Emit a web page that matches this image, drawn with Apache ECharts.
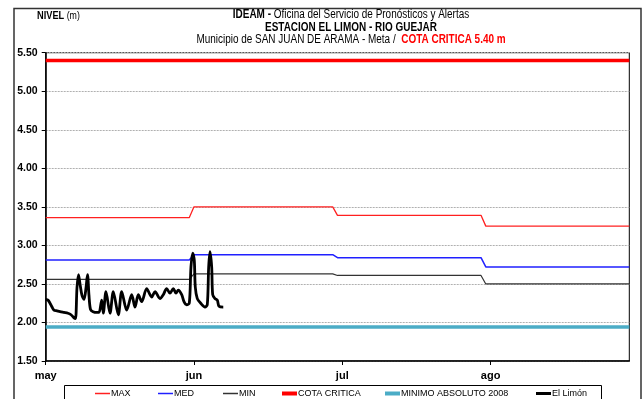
<!DOCTYPE html>
<html><head><meta charset="utf-8">
<script src="https://cdn.jsdelivr.net/npm/echarts@6/dist/echarts.min.js"></script>
<style>html,body{margin:0;padding:0;background:#fff}#c{width:643px;height:399px}</style>
</head><body><div id="c"></div>
<script>
// ---- data ----
const monthNames = ['may', 'jun', 'jul', 'ago'];
const monthTickDays = [0, 31, 62, 93];
const monthStartDays = [0, 31, 61, 92];
const monthLengths = [31, 30, 31, 31];
const maxLevels = [3.36, 3.50, 3.39, 3.25];
const medLevels = [2.81, 2.88, 2.84, 2.72];
const minLevels = [2.56, 2.63, 2.61, 2.50];
const cotaCritica = 5.40;
const minimoAbsoluto2008 = 1.94;
const limonDays = [0, 0.48, 0.90, 1.32, 1.73, 2.36, 2.99, 3.83, 4.66, 5.29, 5.92, 6.23, 6.54, 6.86, 7.17, 7.59, 8.01, 8.43, 8.74, 9.05, 9.36, 9.89, 10.72, 11.14, 11.71, 12.04, 12.60, 13.44, 14.13, 15.18, 15.89, 16.93, 17.98, 18.67, 19.36, 20.07, 21.11, 22.16, 22.85, 23.89, 24.58, 25.29, 25.98, 26.67, 27.24, 27.72, 28.43, 28.91, 29.47, 30.02, 30.37, 30.73, 31.06, 31.27, 31.69, 32.40, 33.30, 33.78, 34.07, 34.34, 34.70, 34.91, 35.39, 35.87, 36.23, 37.12];
const limonLevels = [2.30, 2.29, 2.25, 2.20, 2.16, 2.15, 2.14, 2.13, 2.12, 2.10, 2.06, 2.05, 2.45, 2.62, 2.50, 2.35, 2.30, 2.45, 2.62, 2.35, 2.17, 2.14, 2.13, 2.13, 2.29, 2.12, 2.40, 2.12, 2.40, 2.10, 2.40, 2.16, 2.36, 2.20, 2.36, 2.27, 2.44, 2.33, 2.40, 2.31, 2.36, 2.44, 2.38, 2.44, 2.38, 2.42, 2.36, 2.27, 2.23, 2.25, 2.72, 2.90, 2.81, 2.46, 2.31, 2.25, 2.20, 2.23, 2.72, 2.92, 2.72, 2.36, 2.31, 2.29, 2.21, 2.20];
const legendNames = ['MAX', 'MED', 'MIN', 'COTA CRITICA', 'MINIMO ABSOLUTO 2008', 'El Limón'];

// ---- helpers ----
function monthlySteps(levels) {
  const out = [];
  levels.forEach((v, i) => {
    out.push([monthStartDays[i], v]);
    out.push([monthStartDays[i] + monthLengths[i] - 1, v]);
  });
  return out;
}
const axisEnd = monthStartDays[3] + monthLengths[3] - 1;
const flat = v => [[0, v], [axisEnd, v]];
const limonData = limonDays.map((d, i) => [d, limonLevels[i]]);

const arial = "Arial, 'Liberation Sans', sans-serif";
const legendLefts = [95, 158, 223, 282, 385, 536];
const legendThick = [1.5, 1.5, 1.5, 4, 4, 3];

function titleText(y, text, rich, size) {
  return {type: 'text', z: 10, x: 351, y: y, scaleX: 0.83,
    style: {text: text, rich: rich, align: 'center', verticalAlign: 'middle', textAlign: 'center', textVerticalAlign: 'middle',
            fontFamily: arial, fontSize: size || 12, fill: '#000'}};
}
const B = {fontFamily: arial, fontWeight: 'bold', fontSize: 12, fill: '#000'};
const N = {fontFamily: arial, fontWeight: 'normal', fontSize: 12, fill: '#000'};
const R = {fontFamily: arial, fontWeight: 'bold', fontSize: 12, fill: '#ff0000'};

const chart = echarts.init(document.getElementById('c'), null, {renderer: 'canvas'});
chart.setOption({
  animation: false,
  backgroundColor: '#fff',
  graphic: [
    {type: 'rect', z: 0, shape: {x: 14, y: 8.5, width: 627, height: 400}, style: {fill: null, stroke: '#333', lineWidth: 1.5}},
    {type: 'rect', z: 0, shape: {x: 64.5, y: 385.5, width: 537, height: 30}, style: {fill: '#fff', stroke: '#000', lineWidth: 1}},
    {type: 'text', z: 10, x: 37, y: 16, scaleX: 0.88,
     style: {text: '{b|NIVEL} {n|(m)}', rich: {b: {fontFamily: arial, fontWeight: 'bold', fontSize: 10.5, fill: '#000'}, n: {fontFamily: arial, fontSize: 10, fill: '#000'}},
             align: 'left', verticalAlign: 'middle', textAlign: 'left', textVerticalAlign: 'middle', fontFamily: arial, fontSize: 10, fill: '#000'}},
    titleText(15, '{b|IDEAM -} {n|Oficina del Servicio de Pronósticos y Alertas}', {b: B, n: N}),
    titleText(27.5, '{b|ESTACION EL LIMON - RIO GUEJAR}', {b: B}),
    titleText(40, '{n|Municipio de SAN JUAN DE ARAMA - Meta /}  {r|COTA CRITICA 5.40 m}', {n: N, r: R})
  ],
  legend: legendNames.map((n, i) => ({
    data: [n], left: legendLefts[i], top: 389, padding: 0, icon: 'rect',
    itemWidth: 15, itemHeight: legendThick[i], itemGap: 0,
    selectedMode: false, textStyle: {fontFamily: arial, fontSize: 9, color: '#000', padding: [0, 0, 0, -4]}
  })),
  grid: {left: 45.7, right: 13.7, top: 52.7, bottom: 38, show: true, borderColor: '#000', borderWidth: 1, backgroundColor: 'transparent'},
  xAxis: {
    type: 'value', min: 0, max: axisEnd,
    axisLine: {show: true, lineStyle: {color: '#000', width: 1.5}},
    axisTick: {show: true, customValues: monthTickDays, length: 4, lineStyle: {color: '#000'}},
    axisLabel: {customValues: monthTickDays, formatter: v => monthNames[monthTickDays.indexOf(v)], fontFamily: arial, fontWeight: 'bold', fontSize: 11, color: '#000', margin: 9},
    splitLine: {show: false}
  },
  yAxis: {
    type: 'value', min: 1.5, max: 5.5, interval: 0.5,
    axisLine: {show: true, lineStyle: {color: '#000', width: 1.5}},
    axisTick: {show: true, length: 4, lineStyle: {color: '#000'}},
    axisLabel: {formatter: v => v.toFixed(2), fontFamily: arial, fontWeight: 'bold', fontSize: 10.5, color: '#000', margin: 8},
    splitLine: {show: true, lineStyle: {color: '#b0b0b0', type: [2, 1], width: 1}}
  },
  series: [
    {name: 'MAX', type: 'line', symbol: 'none', data: monthlySteps(maxLevels), lineStyle: {color: '#ff2020', width: 1.3}, itemStyle: {color: '#ff2020'}, z: 3},
    {name: 'MED', type: 'line', symbol: 'none', data: monthlySteps(medLevels), lineStyle: {color: '#2020ff', width: 1.5}, itemStyle: {color: '#2020ff'}, z: 3},
    {name: 'MIN', type: 'line', symbol: 'none', data: monthlySteps(minLevels), lineStyle: {color: '#333', width: 1.2}, itemStyle: {color: '#333'}, z: 3},
    {name: 'COTA CRITICA', type: 'line', symbol: 'none', data: flat(cotaCritica), lineStyle: {color: '#ff0000', width: 3.5}, itemStyle: {color: '#ff0000'}, z: 3},
    {name: 'MINIMO ABSOLUTO 2008', type: 'line', symbol: 'none', data: flat(minimoAbsoluto2008), lineStyle: {color: '#4bacc6', width: 3.5}, itemStyle: {color: '#4bacc6'}, z: 3},
    {name: 'El Limón', type: 'line', symbol: 'none', smooth: 0.3, data: limonData, lineStyle: {color: '#000', width: 2.8}, itemStyle: {color: '#000'}, z: 4}
  ]
});
</script></body></html>
